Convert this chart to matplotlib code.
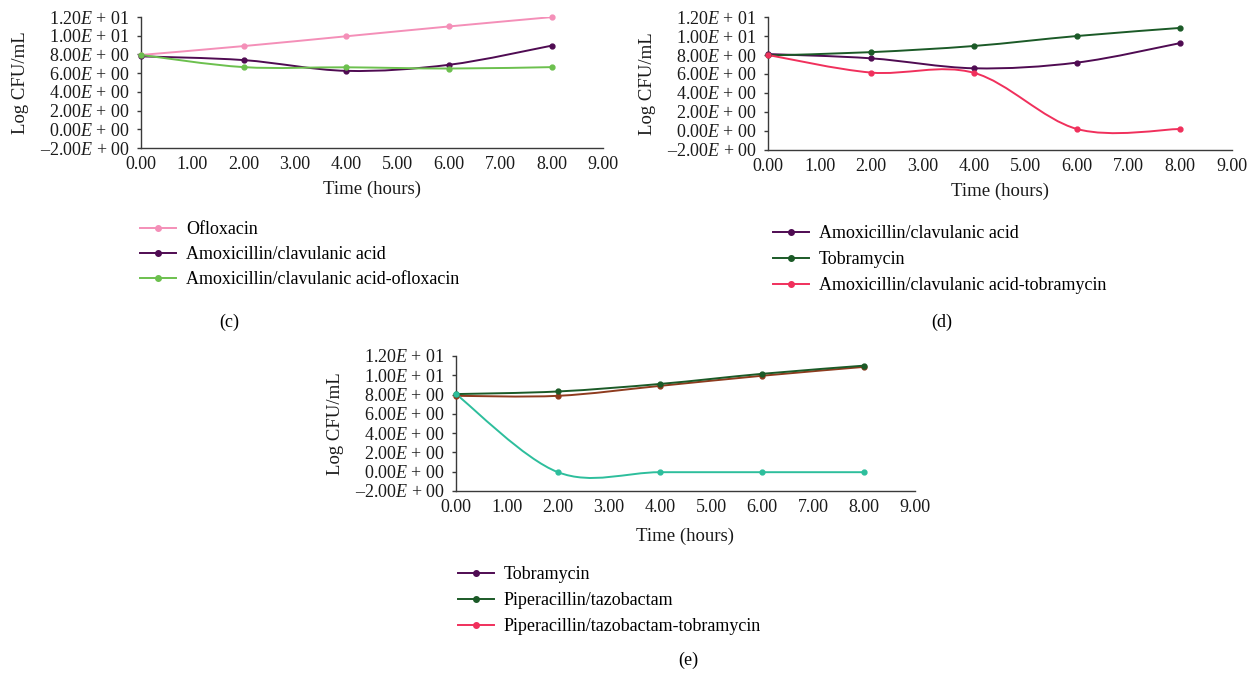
import numpy as np
import matplotlib
matplotlib.use("Agg")
import matplotlib.pyplot as plt
from matplotlib.path import Path
from matplotlib.patches import PathPatch
from matplotlib.lines import Line2D
from matplotlib.ticker import FuncFormatter

plt.rcParams['font.family'] = ['Liberation Serif', 'DejaVu Serif']
plt.rcParams['mathtext.fontset'] = 'custom'
plt.rcParams['mathtext.rm'] = 'Liberation Serif'
plt.rcParams['mathtext.it'] = 'Liberation Serif:italic'

# ---------------- data ----------------
time_h = [0, 2, 4, 6, 8]

# panel (c)
c_labels = ["Ofloxacin", "Amoxicillin/clavulanic acid",
            "Amoxicillin/clavulanic acid-ofloxacin"]
c_oflox = [7.95, 8.9, 9.95, 11.0, 12.0]
c_amox = [7.8, 7.4, 6.25, 6.9, 8.95]
c_combo = [7.95, 6.65, 6.63, 6.5, 6.65]

# panel (d)
d_labels = ["Amoxicillin/clavulanic acid", "Tobramycin",
            "Amoxicillin/clavulanic acid-tobramycin"]
d_amox = [8.1, 7.65, 6.6, 7.2, 9.25]
d_tobra = [7.95, 8.3, 8.95, 10.0, 10.85]
d_combo = [8.0, 6.15, 6.12, 0.21, 0.21]

# panel (e)
e_labels = ["Tobramycin", "Piperacillin/tazobactam",
            "Piperacillin/tazobactam-tobramycin"]
e_tobra = [7.87, 7.87, 8.9, 9.95, 10.87]
e_pip = [8.05, 8.32, 9.1, 10.15, 11.0]
e_combo = [8.05, -0.05, -0.05, -0.05, -0.05]

x_ticks = [0, 1, 2, 3, 4, 5, 6, 7, 8, 9]
y_ticks = [-2, 0, 2, 4, 6, 8, 10, 12]

# colours
PINK = "#F48FB8"
PURPLE = "#4F0B52"
LGREEN = "#6CC04E"
DGREEN = "#1B5A27"
RED = "#F0305C"
BROWN = "#8E3B1E"
TEAL = "#2DBE9C"
AXC = "#3a3a3a"
TXT = "#1a1a1a"
FS = 13


def smooth_path(x, y):
    """Excel-style smoothed line (Catmull-Rom as cubic Bezier)."""
    pts = np.column_stack([x, y]).astype(float)
    n = len(pts)
    verts = [pts[0]]
    codes = [Path.MOVETO]
    for i in range(n - 1):
        p0 = pts[i - 1] if i > 0 else pts[i]
        p1 = pts[i]
        p2 = pts[i + 1]
        p3 = pts[i + 2] if i + 2 < n else pts[i + 1]
        c1 = p1 + (p2 - p0) / 6.0
        c2 = p2 - (p3 - p1) / 6.0
        verts += [c1, c2, p2]
        codes += [Path.CURVE4] * 3
    return Path(verts, codes)


def ytick_fmt(v, pos):
    v = int(round(v))
    if v == 0:
        return r"0.00$E$ + 00"
    exp = int(np.floor(np.log10(abs(v))))
    mant = abs(v) / 10 ** exp
    sign = "\u2013" if v < 0 else ""
    return r"%s%.2f$E$ + %02d" % (sign, mant, exp)


def setup_axes(ax, xlabelpad=5):
    ax.set_xlim(0, 9)
    ax.set_ylim(-2, 12)
    ax.set_xticks(x_ticks)
    ax.set_yticks(y_ticks)
    ax.xaxis.set_major_formatter(FuncFormatter(lambda v, p: "%.2f" % v))
    ax.yaxis.set_major_formatter(FuncFormatter(ytick_fmt))
    for s in ["top", "right"]:
        ax.spines[s].set_visible(False)
    for s in ["left", "bottom"]:
        ax.spines[s].set_color(AXC)
        ax.spines[s].set_linewidth(1.0)
    ax.tick_params(axis="y", length=3, width=1, color=AXC, labelsize=FS,
                   pad=5, labelcolor=TXT)
    ax.tick_params(axis="x", length=0, labelsize=FS, pad=6, labelcolor=TXT)
    ax.set_xlabel("Time (hours)", fontsize=FS + 0.5, labelpad=xlabelpad,
                  color=TXT)
    ax.set_ylabel("Log CFU/mL", fontsize=FS + 0.5, labelpad=8, color=TXT)


def draw_series(ax, y, color):
    ax.add_patch(PathPatch(smooth_path(time_h, y), facecolor="none",
                           edgecolor=color, lw=1.4, zorder=2))
    ax.plot(time_h, y, "o", color=color, ms=3.5, zorder=3, clip_on=False)


def add_legend(fig, labels, colors, x, y, spacing=0.45):
    handles = [Line2D([0], [0], color=c, lw=1.4, marker="o", ms=4)
               for c in colors]
    fig.legend(handles, labels, loc="upper left", bbox_to_anchor=(x, y),
               frameon=False, fontsize=FS, handlelength=2.0,
               handletextpad=0.55, labelspacing=spacing, borderaxespad=0,
               borderpad=0)


fig = plt.figure(figsize=(12.56, 6.75), dpi=100)

# panel (c)
ax_c = fig.add_axes([0.1123, 0.7807, 0.368, 0.194])
setup_axes(ax_c)
draw_series(ax_c, c_oflox, PINK)
draw_series(ax_c, c_amox, PURPLE)
draw_series(ax_c, c_combo, LGREEN)
add_legend(fig, c_labels, [PINK, PURPLE, LGREEN], 0.1115, 0.6726)
fig.text(0.1823, 0.523, "(c)", ha="center", va="center", fontsize=FS)

# panel (d)
ax_d = fig.add_axes([0.6115, 0.7778, 0.369, 0.197])
setup_axes(ax_d)
draw_series(ax_d, d_amox, PURPLE)
draw_series(ax_d, d_tobra, DGREEN)
draw_series(ax_d, d_combo, RED)
add_legend(fig, d_labels, [PURPLE, DGREEN, RED], 0.6155, 0.6666, 0.5)
fig.text(0.750, 0.523, "(d)", ha="center", va="center", fontsize=FS)

# panel (e)
ax_e = fig.add_axes([0.3630, 0.2726, 0.3655, 0.200])
setup_axes(ax_e, xlabelpad=8)
draw_series(ax_e, e_tobra, BROWN)
draw_series(ax_e, e_pip, DGREEN)
draw_series(ax_e, e_combo, TEAL)
add_legend(fig, e_labels, [PURPLE, DGREEN, RED], 0.3646, 0.1615, 0.5)
fig.text(0.5478, 0.022, "(e)", ha="center", va="center", fontsize=FS)

fig.savefig("out.png", dpi=100, facecolor="white")
